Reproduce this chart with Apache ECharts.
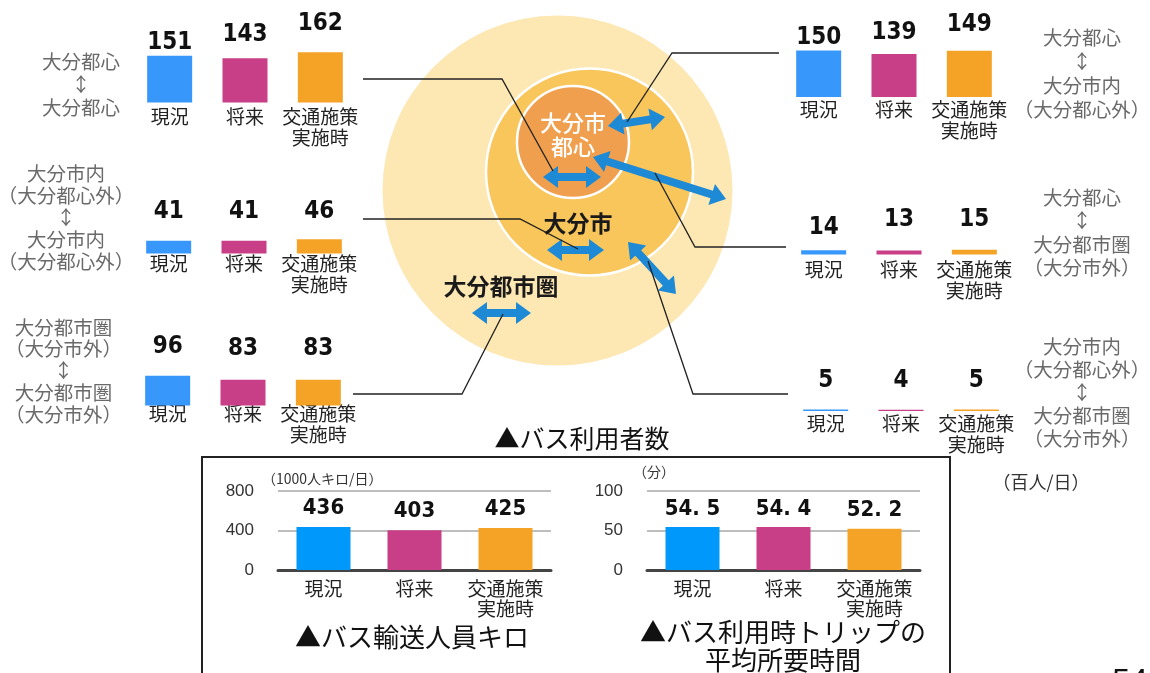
<!DOCTYPE html>
<html>
<head>
<meta charset="utf-8">
<script src="https://cdn.jsdelivr.net/npm/echarts@6/dist/echarts.min.js"></script>
<style>
  html, body { margin: 0; padding: 0; background: #fff; }
  #chart { width: 1150px; height: 673px; }
</style>
</head>
<body>
<div id="chart"></div>
<script>
// Bus ridership between zones (百人/日), scenario order: 現況 / 将来 / 交通施策実施時
const categories = ['現況', '将来', '交通施策\n実施時'];
const flowCoreCore = [151, 143, 162];     // 大分都心 ↔ 大分都心
const flowCityCity = [41, 41, 46];        // 大分市内 ↔ 大分市内
const flowMetroMetro = [96, 83, 83];      // 大分都市圏 ↔ 大分都市圏
const flowCoreCity = [150, 139, 149];     // 大分都心 ↔ 大分市内
const flowCoreMetro = [14, 13, 15];       // 大分都心 ↔ 大分都市圏
const flowCityMetro = [5, 4, 5];          // 大分市内 ↔ 大分都市圏

// Bus passenger-kilometres (1000人キロ/日) and average trip time (分)
const passengerKm = [436, 403, 425];
const passengerKmTicks = [0, 400, 800];
const avgTripMinutes = [54.5, 54.4, 52.2];
const avgTripTicks = [0, 50, 100];

const FONT = "'Noto Sans CJK JP', 'Noto Sans', sans-serif";
const NUM_FONT = "'Liberation Sans Narrow', 'DejaVu Sans Condensed', sans-serif";
const AXIS_FONT = "'Liberation Sans', 'DejaVu Sans', sans-serif";
const barColors = ['#3797fb', '#c83f88', '#f5a327'];
const barColorsBottom = ['#0098fa', '#c83f88', '#f5a327'];
const FLOW_MAX = 200;       // common scale for all zone-to-zone panels
const FLOW_HEIGHT = 62;

// layout of the six zone-to-zone panels
const flowPanels = [
  { values: flowCoreCore, left: 132, base: 102.5, gaps: [0, 10, 16], catMargin: 4,
    title: '大分都心\n↕\n大分都心', tx: 81, ty: 85, tlh: 23 },
  { values: flowCityCity, left: 131, base: 253.5, gaps: [16, 16, 14.5], catMargin: 0,
    title: '大分市内\n（大分都心外）\n↕\n大分市内\n（大分都心外）', tx: 66, ty: 218, tlh: 22 },
  { values: flowMetroMetro, left: 130, base: 405.5, gaps: [16, 18, 18], catMargin: -2,
    title: '大分都市圏\n（大分市外）\n↕\n大分都市圏\n（大分市外）', tx: 63.5, ty: 370.7, tlh: 21.8 },
  { values: flowCoreCity, left: 781, base: 97, gaps: [0, 8, 13], catMargin: 2,
    title: '大分都心\n↕\n大分市内\n（大分都心外）', tx: 1082, ty: 73.6, tlh: 24 },
  { values: flowCoreMetro, left: 786, base: 254.5, gaps: [9, 17.5, 17], catMargin: 5,
    title: '大分都心\n↕\n大分都市圏\n（大分市外）', tx: 1082, ty: 232.5, tlh: 23.3 },
  { values: flowCityMetro, left: 788, base: 411, gaps: [15.5, 16, 15.5], catMargin: 2.5,
    title: '大分市内\n（大分都心外）\n↕\n大分都市圏\n（大分市外）', tx: 1082, ty: 393, tlh: 23 }
];

const grids = [], xAxes = [], yAxes = [], series = [], graphics = [];

const catLabel = (margin, size) => ({
  show: true, margin: margin, color: '#222', fontFamily: FONT, fontSize: size,
  lineHeight: 21, interval: 0
});

flowPanels.forEach((p, i) => {
  grids.push({ left: p.left, top: p.base - FLOW_HEIGHT, width: 226, height: FLOW_HEIGHT });
  xAxes.push({
    type: 'category', gridIndex: i, data: categories,
    axisLine: { show: false }, axisTick: { show: false },
    axisLabel: catLabel(p.catMargin, 19)
  });
  yAxes.push({ type: 'value', gridIndex: i, min: 0, max: FLOW_MAX, show: false, splitLine: { show: false } });
  series.push({
    type: 'bar', xAxisIndex: i, yAxisIndex: i, barWidth: 45,
    data: p.values.map((v, k) => ({
      value: v,
      itemStyle: { color: barColors[k] },
      label: { distance: p.gaps[k] }
    })),
    label: {
      show: true, position: 'top', color: '#111', fontFamily: NUM_FONT,
      fontWeight: 'bold', fontSize: 24, lineHeight: 26
    }
  });
  graphics.push({
    type: 'text', x: p.tx, y: p.ty, z: 10,
    style: { text: p.title, fill: '#6a6a6a', font: '19.5px ' + FONT, lineHeight: p.tlh,
             align: 'center', verticalAlign: 'middle' }
  });
});

// two framed bar charts with axes
const framed = [
  { values: passengerKm, ticks: passengerKmTicks, left: 278, colorSet: barColorsBottom,
    unit: '（1000人キロ/日）', unitPad: -16, unitGap: 5, fmt: v => String(v), gap: 8 },
  { values: avgTripMinutes, ticks: avgTripTicks, left: 647, colorSet: barColorsBottom,
    unit: '（分）', unitPad: -14, unitGap: 12, fmt: v => v.toFixed(1).replace('.', '. '), gap: 7 }
];

framed.forEach((f, j) => {
  const i = flowPanels.length + j;
  const step = f.ticks[1] - f.ticks[0];
  grids.push({ left: f.left, top: 491, width: 273, height: 79 });
  xAxes.push({
    type: 'category', gridIndex: i, data: categories,
    axisLine: { show: true, lineStyle: { color: '#444', width: 3 } },
    axisTick: { show: false },
    axisLabel: { show: true, margin: 9, color: '#222', fontFamily: FONT, fontSize: 19,
                 lineHeight: 20, interval: 0 }
  });
  yAxes.push({
    type: 'value', gridIndex: i, min: f.ticks[0], max: f.ticks[f.ticks.length - 1], interval: step,
    axisLine: { show: false }, axisTick: { show: false },
    axisLabel: { color: '#333', fontFamily: AXIS_FONT, fontSize: 17, margin: 24 },
    splitLine: { show: true, lineStyle: { color: '#a8a8a8', width: 1.6 } },
    name: f.unit, nameLocation: 'end', nameGap: f.unitGap,
    nameTextStyle: { color: '#333', fontFamily: FONT, fontSize: 14, align: 'left',
                     padding: [0, 0, 0, f.unitPad] }
  });
  series.push({
    type: 'bar', xAxisIndex: i, yAxisIndex: i, barWidth: 54,
    data: f.values.map((v, k) => ({ value: v, itemStyle: { color: f.colorSet[k] } })),
    label: {
      show: true, position: 'top', distance: f.gap, color: '#111', fontFamily: NUM_FONT,
      fontWeight: 'bold', fontSize: 22, lineHeight: 22,
      formatter: prm => f.fmt(prm.value)
    }
  });
});

// zone diagram: concentric areas
graphics.unshift(
  { type: 'circle', z: 1, shape: { cx: 557.5, cy: 190.5, r: 175 }, style: { fill: '#fde8b4' } },
  { type: 'circle', z: 2, shape: { cx: 589.5, cy: 172, r: 103.5 },
    style: { fill: '#f8c65b', stroke: '#ffffff', lineWidth: 2.5 } },
  { type: 'circle', z: 3, shape: { cx: 573, cy: 142, r: 56 },
    style: { fill: '#ef9f4d', stroke: '#ffffff', lineWidth: 2.5 } }
);

// double-headed flow arrow between two points
function doubleArrow(x1, y1, x2, y2) {
  const shaft = 4, headW = 11, headL = 15;
  const dx = x2 - x1, dy = y2 - y1, L = Math.hypot(dx, dy);
  const ux = dx / L, uy = dy / L, nx = -uy, ny = ux;
  const b1 = [x1 + ux * headL, y1 + uy * headL];
  const b2 = [x2 - ux * headL, y2 - uy * headL];
  const pt = (b, w) => [b[0] + nx * w, b[1] + ny * w];
  return {
    type: 'polygon', z: 6,
    shape: { points: [[x1, y1], pt(b1, headW), pt(b1, shaft), pt(b2, shaft), pt(b2, headW),
                      [x2, y2], pt(b2, -headW), pt(b2, -shaft), pt(b1, -shaft), pt(b1, -headW)] },
    style: { fill: '#1e8ad6' }
  };
}
graphics.push(
  doubleArrow(543, 177, 601, 177),
  doubleArrow(608, 126, 665, 117),
  doubleArrow(593, 157, 726, 199),
  doubleArrow(547, 250, 604, 250),
  doubleArrow(628, 242, 676, 294),
  doubleArrow(472, 313, 531, 313)
);

// leader lines from each panel to its arrow
const leader = pts => ({
  type: 'polyline', z: 8, shape: { points: pts },
  style: { stroke: '#222', lineWidth: 1.3, fill: null }
});
graphics.push(
  leader([[363, 79], [502, 79], [553, 171]]),
  leader([[363, 219], [520, 219], [578, 249]]),
  leader([[353, 394], [462, 394], [503, 314]]),
  leader([[627, 122], [672, 53], [779, 53]]),
  leader([[655, 173], [695, 247], [786, 247]]),
  leader([[648, 261], [693, 394], [788, 394]])
);

const txt = (text, x, y, font, fill, lineHeight) => ({
  type: 'text', x: x, y: y, z: 10,
  style: { text: text, fill: fill, font: font, lineHeight: lineHeight,
           align: 'center', verticalAlign: 'middle' }
});

graphics.push(
  txt('大分市\n都心', 573, 135, '500 22px ' + FONT, '#ffffff', 24),
  txt('大分市', 578, 223, 'bold 23px ' + FONT, '#1a1a1a'),
  txt('大分都市圏', 501, 286, 'bold 23px ' + FONT, '#1a1a1a'),
  txt('▲バス利用者数', 582, 438, '25px ' + FONT, '#111'),
  txt('（百人/日）', 1041, 482, '18px ' + FONT, '#333'),
  txt('▲バス輸送人員キロ', 412, 637, '26px ' + FONT, '#111'),
  txt('▲バス利用時トリップの\n平均所要時間', 783, 646, '26px ' + FONT, '#111', 28),
  txt('54', 1130, 682, '32px ' + AXIS_FONT, '#111'),
  { type: 'rect', z: 9, shape: { x: 202, y: 457, width: 748, height: 240 },
    style: { fill: null, stroke: '#222', lineWidth: 2 } }
);

const chart = echarts.init(document.getElementById('chart'), null, { renderer: 'canvas' });
chart.setOption({
  animation: false,
  backgroundColor: '#ffffff',
  grid: grids,
  xAxis: xAxes,
  yAxis: yAxes,
  series: series,
  graphic: { elements: graphics }
});
</script>
</body>
</html>
